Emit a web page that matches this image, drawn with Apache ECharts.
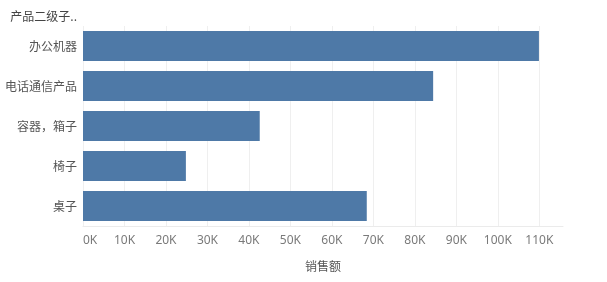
<!DOCTYPE html>
<html>
<head>
<meta charset="utf-8">
<script src="https://cdn.jsdelivr.net/npm/echarts@6/dist/echarts.min.js"></script>
<style>
html,body{margin:0;padding:0;background:#fff;}
#main{width:607px;height:282px;}
</style>
</head>
<body>
<div id="main"></div>
<script>
const categories = ['办公机器', '电话通信产品', '容器，箱子', '椅子', '桌子'];
const sales = [109900, 84400, 42600, 24800, 68400];
const axisTitle = '销售额';
const dimTitle = '产品二级子..';

const chart = echarts.init(document.getElementById('main'));
chart.setOption({
  animation: false,
  backgroundColor: '#fff',
  textStyle: { fontFamily: 'Noto Sans, Noto Sans CJK SC, sans-serif' },
  title: {
    text: dimTitle,
    right: 530,
    top: 10,
    padding: 0,
    textStyle: { fontSize: 12, fontWeight: 'normal', color: '#444', fontFamily: 'Noto Sans CJK SC' }
  },
  grid: { left: 83, top: 26, right: 44, bottom: 56, containLabel: false },
  xAxis: {
    type: 'value',
    min: 0,
    max: 115700,
    interval: 10000,
    name: axisTitle,
    nameLocation: 'middle',
    nameGap: 34,
    nameTextStyle: { fontSize: 12, color: '#555', fontFamily: 'Noto Sans CJK SC' },
    axisLine: { show: true, lineStyle: { color: '#ebebeb', width: 1 } },
    axisTick: { show: false },
    axisLabel: {
      fontSize: 12,
      color: '#7a7a7a',
      margin: 9,
      showMaxLabel: false,
      alignMinLabel: 'left',
      formatter: v => (v / 1000) + 'K'
    },
    splitLine: { show: true, showMaxLine: false, lineStyle: { color: '#efefef', width: 1 } }
  },
  yAxis: {
    type: 'category',
    data: categories,
    inverse: true,
    axisLine: { show: false },
    axisTick: { show: false },
    axisLabel: { fontSize: 12, color: '#555', margin: 6, fontFamily: 'Noto Sans CJK SC' }
  },
  series: [{
    type: 'bar',
    data: sales,
    barCategoryGap: '25%',
    itemStyle: { color: '#4e79a7' }
  }]
});
</script>
</body>
</html>
